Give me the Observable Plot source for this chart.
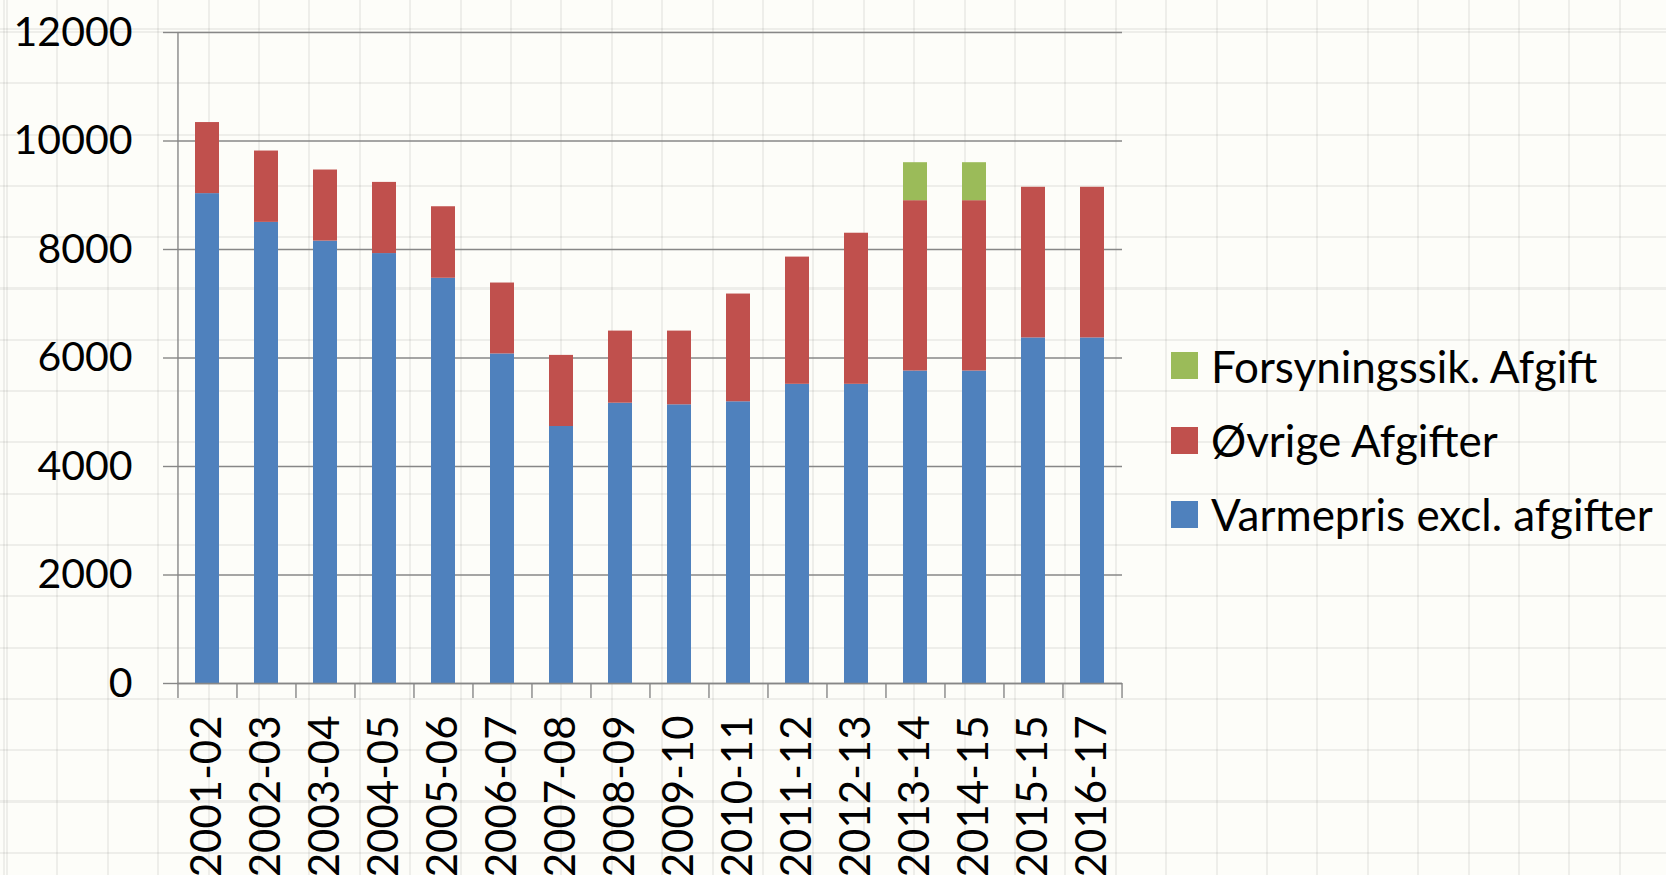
<!DOCTYPE html>
<html>
<head>
<meta charset="utf-8">
<script src="https://cdn.jsdelivr.net/npm/d3@7"></script>
<script src="https://cdn.jsdelivr.net/npm/@observablehq/plot@0.6"></script>
<style>
  html, body { margin: 0; padding: 0; }
  body {
    width: 1666px; height: 875px; overflow: hidden; position: relative;
    background-color: #fdfdf9;
    background-image:
      repeating-linear-gradient(to right, rgba(0,0,0,0.06) 0 2px, transparent 2px 50.4px),
      repeating-linear-gradient(to bottom, rgba(0,0,0,0.06) 0 2px, transparent 2px 51.3px);
    background-position: 6px 0, 0 31px;
    font-family: Lato, "Open Sans", sans-serif;
  }
  #chart { position: absolute; left: 0; top: 0; }
  #legend { position: absolute; left: 1171px; top: 0; }
  .row { position: absolute; left: 0; display: flex; align-items: center; height: 40px; white-space: nowrap; }
  .sw { width: 27px; height: 27px; margin-right: 13px; flex: none; }
  .lbl { font-size: 44px; color: #000; line-height: 40px; }
</style>
</head>
<body>
<div id="chart"></div>
<div id="legend"></div>
<script>
const categories = ["2001-02","2002-03","2003-04","2004-05","2005-06","2006-07","2007-08","2008-09","2009-10","2010-11","2011-12","2012-13","2013-14","2014-15","2015-15","2016-17"];
const varmepris = [9030, 8500, 8155, 7925, 7470, 6075, 4737, 5167, 5137, 5193, 5515, 5515, 5760, 5760, 6370, 6370];
const ovrige    = [1310, 1315, 1310, 1312, 1318, 1307, 1311, 1329, 1359, 1986, 2345, 2785, 3140, 3140, 2777, 2777];
const forsyning = [0, 0, 0, 0, 0, 0, 0, 0, 0, 0, 0, 0, 700, 700, 0, 0];
const seriesNames  = ["Varmepris excl. afgifter", "Øvrige Afgifter", "Forsyningssik. Afgift"];
const seriesColors = ["#4f81bd", "#c0504d", "#9bbb59"];
const yTicks = [0, 2000, 4000, 6000, 8000, 10000, 12000];

const seriesValues = [varmepris, ovrige, forsyning];
const table = [];
seriesNames.forEach((s, si) => {
  categories.forEach((c, ci) => table.push({cat: c, series: s, value: seriesValues[si][ci]}));
});

const W = 1666, H = 875, mL = 177, mR = 544, mT = 32, mB = 192;
const step = (W - mL - mR) / categories.length;
const axisColor = "#878787";

const chart = Plot.plot({
  width: W, height: H,
  marginLeft: mL, marginRight: mR, marginTop: mT, marginBottom: mB,
  style: {background: "transparent", fontFamily: "Lato, 'Open Sans', sans-serif", overflow: "visible", color: "#000"},
  x: {type: "band", domain: categories, paddingInner: 0.6, paddingOuter: 0.3, label: null},
  y: {domain: [0, 12000], label: null},
  color: {domain: seriesNames, range: seriesColors},
  marks: [
    Plot.gridY(yTicks, {stroke: axisColor, strokeOpacity: 1, strokeWidth: 1.4}),
    Plot.barY(table, {x: "cat", y: "value", fill: "series"}),
    Plot.ruleX([categories[0]], {dx: -step / 2, stroke: axisColor, strokeWidth: 1.4}),
    Plot.ruleY([0], {stroke: axisColor, strokeWidth: 1.4}),
    Plot.axisY(yTicks, {tickSize: 14, tickPadding: 31, stroke: axisColor, strokeWidth: 1.4, fontSize: 41, tickFormat: d => String(d), label: null}),
    Plot.axisX(categories, {tickSize: 15, tickFormat: () => "", dx: -step / 2, stroke: axisColor, strokeWidth: 1.4, label: null}),
    Plot.axisX([categories[categories.length - 1]], {tickSize: 15, tickFormat: () => "", dx: step / 2, stroke: axisColor, strokeWidth: 1.4, label: null}),
    Plot.axisX(categories, {tickSize: 0, tickPadding: 32, tickRotate: -90, fontSize: 42, label: null})
  ]
});
document.getElementById("chart").appendChild(chart);

const legendRowsY = [365.5, 440, 514];
const legend = document.getElementById("legend");
const order = [2, 1, 0];
order.forEach((si, i) => {
  const row = document.createElement("div");
  row.className = "row";
  row.style.top = (legendRowsY[i] - 20) + "px";
  row.innerHTML = `<div class="sw" style="background:${seriesColors[si]}"></div><div class="lbl">${seriesNames[si]}</div>`;
  legend.appendChild(row);
});
</script>
</body>
</html>
